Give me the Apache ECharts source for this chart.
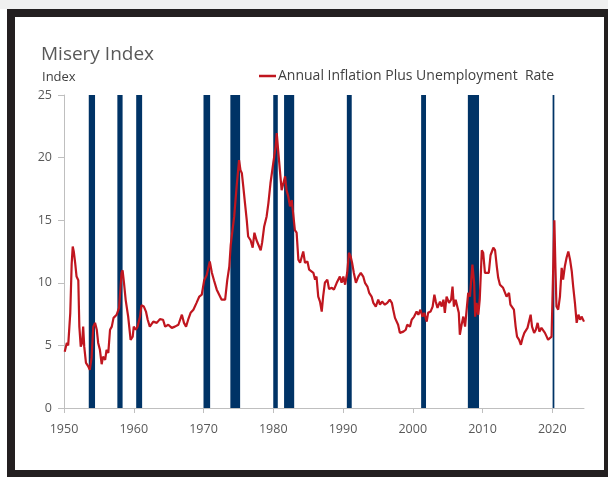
<!DOCTYPE html>
<html>
<head>
  <meta charset="utf-8">
  <title>Misery Index</title>
  <script src="https://cdn.jsdelivr.net/npm/echarts@6.0.0/dist/echarts.min.js"></script>
  <style>
    html, body {
      margin: 0;
      padding: 0;
      background: #fff;
      overflow: hidden;
      width: 608px;
      height: 477px;
    }
    .topstrip {
      position: absolute;
      left: 0;
      top: 0;
      width: 608px;
      height: 9px;
      background: #f0f0f0;
    }
    .frame {
      position: absolute;
      left: 7px;
      top: 9px;
      border-left: 8px solid #231f20;
      border-top: 8px solid #231f20;
      border-right: 4px solid #231f20;
      border-bottom: 7px solid #231f20;
      background: #fff;
    }
    #main {
      width: 589px;
      height: 453px;
    }
  </style>
</head>
<body>
  <div class="topstrip"></div>
  <div class="frame"><div id="main"></div></div>

  <script>
    // 月度近似读数（年份，数值）
    const years = [
      1950.1, 1950.4, 1950.6, 1950.9, 1951.1, 1951.25, 1951.4, 1951.6, 1951.8, 1952.05,
      1952.2, 1952.4, 1952.6, 1952.75, 1952.9, 1953.15, 1953.5, 1953.7, 1953.95, 1954.2,
      1954.45, 1954.7, 1954.9, 1955.15, 1955.4, 1955.6, 1955.9, 1956.1, 1956.35, 1956.6,
      1956.85, 1957.1, 1957.55, 1957.9, 1958.25, 1958.4, 1958.6, 1958.85, 1959.2, 1959.55,
      1959.85, 1960.0, 1960.3, 1960.55, 1960.9, 1961.1, 1961.45, 1961.75, 1962.0, 1962.3,
      1962.8, 1963.3, 1963.75, 1964.2, 1964.5, 1964.95, 1965.45, 1965.9, 1966.4, 1966.9,
      1967.2, 1967.5, 1967.8, 1968.15, 1968.55, 1969.0, 1969.4, 1969.75, 1970.1, 1970.45,
      1970.9, 1971.2, 1971.5, 1971.9, 1972.25, 1972.6, 1973.1, 1973.4, 1973.7, 1973.9,
      1974.05, 1974.4, 1974.75, 1975.1, 1975.3, 1975.5, 1975.7, 1975.95, 1976.2, 1976.4,
      1976.75, 1977.05, 1977.3, 1977.6, 1977.85, 1978.2, 1978.4, 1978.7, 1979.05, 1979.3,
      1979.6, 1980.0, 1980.35, 1980.5, 1980.7, 1980.95, 1981.2, 1981.45, 1981.7, 1981.9,
      1982.15, 1982.4, 1982.65, 1982.85, 1983.1, 1983.35, 1983.6, 1983.85, 1984.1, 1984.3,
      1984.55, 1984.9, 1985.15, 1985.4, 1985.75, 1986.0, 1986.2, 1986.45, 1986.7, 1986.95,
      1987.15, 1987.4, 1987.75, 1988.0, 1988.4, 1988.7, 1989.1, 1989.55, 1989.8, 1990.05,
      1990.3, 1990.6, 1990.85, 1991.1, 1991.3, 1991.55, 1991.85, 1992.2, 1992.55, 1992.9,
      1993.15, 1993.5, 1993.75, 1994.1, 1994.35, 1994.7, 1995.05, 1995.3, 1995.6, 1996.0,
      1996.35, 1996.7, 1997.0, 1997.2, 1997.45, 1997.7, 1997.9, 1998.15, 1998.4, 1998.65,
      1999.0, 1999.2, 1999.6, 1999.85, 2000.2, 2000.55, 2000.8, 2001.1, 2001.4, 2001.65,
      2002.0, 2002.2, 2002.55, 2002.85, 2003.1, 2003.3, 2003.55, 2003.9, 2004.15, 2004.4,
      2004.6, 2004.85, 2005.2, 2005.5, 2005.7, 2005.9, 2006.15, 2006.4, 2006.6, 2006.75,
      2007.0, 2007.25, 2007.5, 2007.7, 2007.95, 2008.2, 2008.55, 2008.8, 2008.95, 2009.15,
      2009.4, 2009.6, 2009.9, 2010.1, 2010.35, 2010.6, 2010.9, 2011.15, 2011.55, 2011.8,
      2012.05, 2012.25, 2012.5, 2012.75, 2012.95, 2013.2, 2013.45, 2013.8, 2014.0, 2014.25,
      2014.5, 2014.75, 2014.95, 2015.25, 2015.5, 2015.75, 2016.0, 2016.2, 2016.45, 2016.7,
      2016.9, 2017.1, 2017.4, 2017.65, 2017.9, 2018.15, 2018.45, 2018.7, 2018.95, 2019.2,
      2019.4, 2019.65, 2019.9, 2020.15, 2020.3, 2020.45, 2020.6, 2020.85, 2021.1, 2021.35,
      2021.55, 2021.8, 2022.05, 2022.3, 2022.55, 2022.8, 2023.0, 2023.25, 2023.5, 2023.75,
      2024.0, 2024.2, 2024.55
    ];
    const misery = [
      4.5, 5.2, 5.0, 7.6, 11.5, 12.9, 12.5, 11.6, 10.5, 10.2,
      6.5, 4.9, 5.2, 6.5, 4.9, 3.6, 3.3, 3.05, 4.0, 6.5,
      6.8, 6.25, 5.2, 4.65, 3.5, 4.1, 3.85, 4.65, 4.4, 6.25,
      6.5, 7.2, 7.45, 8.0, 10.8, 11.0, 10.0, 8.6, 7.3, 5.45,
      5.7, 6.5, 6.25, 6.5, 7.3, 8.2, 8.1, 7.7, 7.05, 6.5,
      6.9, 6.8, 7.1, 7.05, 6.5, 6.65, 6.4, 6.5, 6.65, 7.45,
      6.8, 6.5, 7.05, 7.6, 7.85, 8.4, 8.9, 9.05, 10.2, 10.6,
      11.7, 10.8, 10.2, 9.45, 9.05, 8.65, 8.65, 10.2, 11.3, 13.0,
      13.7, 15.3, 17.7, 19.8, 19.0, 18.75, 17.7, 16.35, 15.0, 13.7,
      13.4, 12.8, 14.0, 13.4, 13.55, 12.6, 13.2, 14.5, 15.3, 16.35,
      17.95, 19.55, 20.9, 21.95, 20.6, 19.0, 17.4, 17.3, 18.5, 17.4,
      16.9, 16.1, 16.6, 15.55, 14.2, 14.0, 11.85, 11.6, 12.1, 12.5,
      11.6, 11.7, 11.05, 10.9, 10.8, 10.25, 10.5, 8.9, 8.5, 7.7,
      8.9, 10.0, 10.25, 9.5, 9.6, 9.45, 10.0, 10.5, 10.0, 10.5,
      9.85, 10.8, 12.4, 12.1, 11.6, 10.8, 10.0, 10.5, 10.8, 10.5,
      10.0, 9.7, 9.2, 8.9, 8.4, 8.1, 8.65, 8.25, 8.5, 8.25,
      8.4, 8.65, 8.4, 7.85, 7.2, 7.05, 6.65, 6.0, 5.85, 6.1,
      6.25, 6.65, 6.5, 7.05, 7.3, 7.7, 7.45, 7.85, 7.3, 7.6,
      6.9, 7.6, 7.7, 8.1, 9.05, 8.5, 8.0, 8.5, 8.1, 8.65,
      7.6, 8.9, 8.4, 8.65, 9.7, 8.1, 8.65, 8.8, 7.6, 5.85,
      6.65, 7.3, 6.5, 7.7, 9.2, 8.9, 11.45, 10.0, 7.3, 8.4,
      7.45, 8.65, 12.6, 12.4, 10.8, 10.65, 10.8, 12.2, 12.8, 12.6,
      11.3, 10.4, 9.85, 10.0, 9.6, 9.7, 8.9, 9.2, 8.25, 8.4,
      7.85, 6.5, 5.7, 5.45, 5.05, 5.6, 6.0, 5.85, 6.4, 6.25,
      7.45, 6.5, 6.0, 6.25, 6.8, 6.1, 6.4, 6.5, 6.0, 5.7,
      5.45, 5.3, 5.7, 5.85, 15.0, 11.3, 8.1, 7.85, 8.9, 11.2,
      10.25, 11.3, 12.0, 12.5, 11.85, 10.9, 9.7, 8.4, 6.8, 7.45,
      7.05, 7.3, 6.9
    ];

    // 衰退区间（起止年份）
    const recStart = [1953.55, 1957.65, 1960.35, 1970.0, 1973.85, 1980.0, 1981.55, 1990.55, 2001.2, 2007.9, 2020.05];
    const recEnd   = [1954.45, 1958.4, 1961.2, 1970.95, 1975.25, 1980.65, 1983.0, 1991.25, 2001.9, 2009.5, 2020.3];

    const xTicks = [1950, 1960, 1970, 1980, 1990, 2000, 2010, 2020];
    const yTicks = [0, 5, 10, 15, 20, 25];

    const seriesName = 'Annual Inflation Plus Unemployment  Rate';
    const lineData = years.map((y, i) => [y, misery[i]]);
    const recData = recStart.map((s, i) => [s, recEnd[i]]);

    const chart = echarts.init(document.getElementById('main'));

    const option = {
      animation: false,
      textStyle: { fontFamily: 'Open Sans' },
      title: [
        {
          text: 'Misery Index',
          left: 21,
          top: 23,
          textStyle: { fontSize: 19, fontWeight: 'normal', color: '#595959', fontFamily: 'Open Sans' }
        },
        {
          text: 'Index',
          left: 22,
          top: 49,
          textStyle: { fontSize: 13, fontWeight: 'normal', color: '#404040', fontFamily: 'Open Sans' }
        }
      ],
      legend: {
        data: [seriesName],
        left: 239,
        top: 47,
        icon: 'rect',
        itemWidth: 17,
        itemHeight: 2.5,
        itemGap: 2,
        textStyle: { fontSize: 14, color: '#404040', fontFamily: 'Open Sans', padding: [0, 0, 0, -3] }
      },
      grid: {
        left: 49,
        right: 20,
        top: 78,
        bottom: 62,
        containLabel: false
      },
      xAxis: {
        type: 'value',
        min: 1950,
        max: 2024.55,
        interval: 10,
        axisLine: { show: true, lineStyle: { color: '#bfbfbf', width: 1 } },
        axisTick: { show: true, length: 5, lineStyle: { color: '#bfbfbf' }, customValues: xTicks },
        axisLabel: {
          color: '#595959', fontSize: 12.5, margin: 15, customValues: xTicks,
          formatter: function (v) { return String(v); }
        },
        splitLine: { show: false }
      },
      yAxis: {
        type: 'value',
        min: 0,
        max: 25,
        interval: 5,
        axisLine: { show: true, lineStyle: { color: '#bfbfbf', width: 1 } },
        axisTick: { show: true, length: 6, lineStyle: { color: '#bfbfbf' }, customValues: yTicks },
        axisLabel: { color: '#595959', fontSize: 12.5, margin: 12, customValues: yTicks },
        splitLine: { show: false }
      },
      series: [
        {
          name: 'Recessions',
          type: 'custom',
          z: 1,
          silent: true,
          data: recData,
          encode: { x: [0, 1] },
          renderItem: function (params, api) {
            const p0 = api.coord([api.value(0), 25]);
            const p1 = api.coord([api.value(1), 0]);
            return {
              type: 'rect',
              shape: { x: p0[0], y: p0[1], width: Math.max(p1[0] - p0[0], 1.5), height: p1[1] - p0[1] },
              style: { fill: '#003366' }
            };
          }
        },
        {
          name: seriesName,
          type: 'line',
          z: 3,
          data: lineData,
          showSymbol: false,
          symbol: 'none',
          lineStyle: { color: '#c0161f', width: 2.2 },
          itemStyle: { color: '#c0161f' }
        }
      ]
    };

    chart.setOption(option);
  </script>
</body>
</html>
